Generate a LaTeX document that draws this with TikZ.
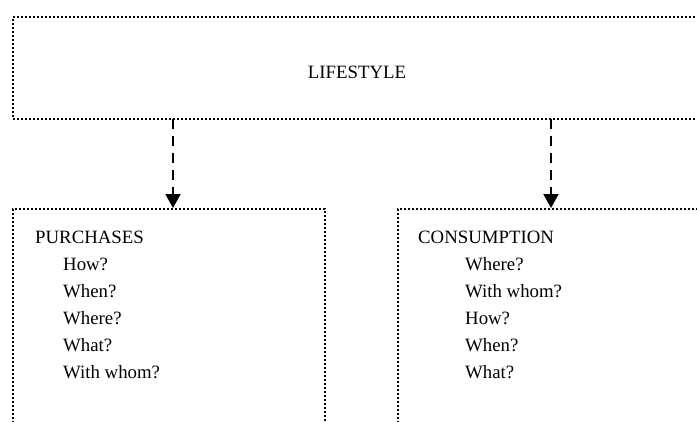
\documentclass[tikz,border=0pt]{standalone}
\usepackage{fontspec}
\setmainfont{Liberation Serif}
\usetikzlibrary{arrows.meta}
\begin{document}
\begin{tikzpicture}[x=1pt,y=-1pt,
  dotbox/.style={draw=black, line width=2pt, dash pattern=on 2pt off 2pt, inner sep=0pt, anchor=north west},
  dasharrow/.style={draw=black, line width=2pt, dash pattern=on 10pt off 7pt, -{Triangle[length=14pt,width=15pt]}},
  label/.style={font=\fontsize{18.8}{27}\selectfont, inner sep=0pt, anchor=north west, align=left}]
\useasboundingbox (0,0) rectangle (697,421);
\clip (0,0) rectangle (697,421);
\node[dotbox, minimum width=720pt, minimum height=102pt] (life) at (12,16) {};
\node[font=\fontsize{18.8}{27}\selectfont, inner sep=0pt] (lifet) at (357,72) {LIFESTYLE};
\node[dotbox, minimum width=312pt, minimum height=240pt] (purch) at (12,208) {};
\node[dotbox, minimum width=330pt, minimum height=240pt] (cons) at (397,208) {};
\node[label] (purt) at (35,231) {PURCHASES\\\hspace{28pt}How?\\\hspace{28pt}When?\\\hspace{28pt}Where?\\\hspace{28pt}What?\\\hspace{28pt}With whom?};
\node[label] (const) at (418,231) {CONSUMPTION\\\hspace{47pt}Where?\\\hspace{47pt}With whom?\\\hspace{47pt}How?\\\hspace{47pt}When?\\\hspace{47pt}What?};
\coordinate (a1) at (173,119);
\coordinate (a2) at (551,119);
\draw[dasharrow] (a1) -- (a1 |- purch.north);
\draw[dasharrow] (a2) -- (a2 |- cons.north);
\end{tikzpicture}
\end{document}
